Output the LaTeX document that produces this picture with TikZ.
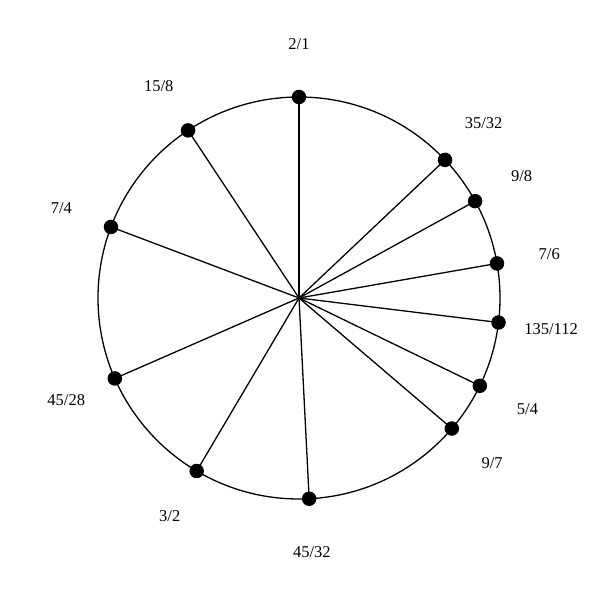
\documentclass[tikz,border=0pt]{standalone}
\usepackage{fontspec}
\setmainfont{Liberation Serif}
\usetikzlibrary{calc}
\begin{document}
\begin{tikzpicture}[x=1pt,y=1pt,
  spoke/.style={line width=1.3pt},
  dotnode/.style={circle,fill=black,inner sep=0pt,minimum size=14.5pt},
  lbl/.style={font=\fontsize{16.5}{18}\selectfont,inner sep=0pt}]
\useasboundingbox[fill=white] (0,0) rectangle (600,600);
\coordinate (c) at (299,302);
\draw[line width=1.3pt] (c) circle (201);
\foreach \n/\t/\a in {a/2\slash1/0, b/35\slash32/46.6, d/9\slash8/61.2, e/7\slash6/80.1, f/135\slash112/97.0, g/5\slash4/115.9, h/9\slash7/130.5, i/45\slash32/177.1, j/3\slash2/210.6, k/45\slash28/246.4, l/7\slash4/290.7, m/15\slash8/326.5}{
  \node[dotnode] (p\n) at ($(c)+({90-\a}:201)$) {};
  \draw[spoke] (c) -- (p\n.center);
  \node[lbl] (t\n) at ($(c)+({90-\a}:254)$) {\t};
}
\end{tikzpicture}
\end{document}
